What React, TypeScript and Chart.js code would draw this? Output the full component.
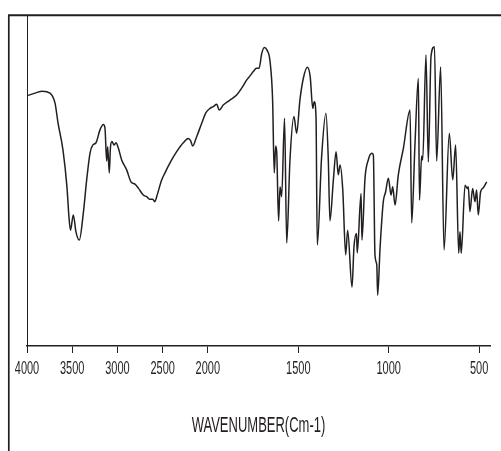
import { useEffect, useRef } from "react";
import { Chart, registerables } from "chart.js";

Chart.register(...registerables);

// Wavenumber (cm-1), high to low
const wavenumbers = [
  4000, 3912, 3829, 3746, 3690, 3657, 3602, 3558, 3536, 3519, 3488, 3458, 3422, 3377, 3340, 3303,
  3273, 3237, 3193, 3156, 3138, 3119, 3108, 3090, 3077, 3060, 3038, 3016, 2990, 2953, 2898, 2850,
  2806, 2769, 2714, 2676, 2640, 2610, 2585, 2566, 2510, 2474, 2419, 2345, 2272, 2216, 2190, 2168,
  2124, 2068, 2021, 1988, 1970, 1951, 1937, 1915, 1878, 1841, 1813, 1785, 1767, 1749, 1731, 1717,
  1702, 1688, 1673, 1656, 1642, 1633, 1625, 1619, 1609, 1601, 1592, 1576, 1564, 1546, 1524, 1509,
  1491, 1472, 1450, 1434, 1420, 1412, 1402, 1395, 1371, 1347, 1334, 1325, 1306, 1291, 1279, 1269,
  1254, 1238, 1227, 1203, 1192, 1178, 1174, 1153, 1148, 1131, 1113, 1094, 1085, 1076, 1066, 1061,
  1048, 1030, 1017, 1002, 987, 978, 965, 947, 919, 882, 873, 855, 836, 830, 818, 812,
  794, 781, 766, 747, 735, 713, 694, 665, 646, 630, 613, 606, 599, 578, 566, 560,
  551, 536, 523, 514, 505, 492, 477, 458,
];

// Transmittance (%), same order
const transmittance = [
  75.6, 76.4, 77.0, 76.4, 73.4, 67.4, 59.2, 48.0, 39.0, 35.0, 39.6, 34.4, 32.0, 40.2, 50.2, 58.3,
  60.7, 61.4, 65.3, 66.9, 65.9, 55.9, 60.2, 52.3, 60.1, 61.8, 60.7, 61.4, 59.8, 56.2, 53.2, 49.6,
  48.9, 47.7, 45.6, 45.1, 44.3, 44.3, 43.6, 45.1, 50.2, 52.3, 55.3, 58.7, 61.4, 62.7, 62.0, 60.4,
  63.2, 67.3, 70.5, 71.8, 72.3, 73.0, 71.3, 72.8, 74.3, 75.8, 77.9, 80.4, 81.6, 82.9, 83.9, 83.9,
  88.4, 90.2, 89.4, 85.9, 74.3, 52.3, 60.4, 58.3, 37.8, 48.0, 45.1, 68.8, 31.1, 56.2, 69.3, 64.3,
  74.3, 80.9, 84.2, 81.3, 71.8, 73.8, 69.3, 30.5, 57.2, 70.3, 56.2, 37.8, 50.2, 58.7, 51.7, 54.7,
  47.1, 27.5, 35.0, 17.8, 30.0, 34.0, 28.1, 46.1, 32.0, 50.7, 56.2, 58.2, 57.7, 27.5, 24.5, 15.4,
  29.5, 43.6, 46.6, 50.7, 45.6, 48.1, 42.6, 51.7, 59.7, 71.3, 37.2, 60.7, 80.9, 44.1, 57.4, 56.2,
  87.9, 55.6, 87.6, 90.4, 55.9, 84.3, 29.0, 64.3, 50.2, 60.7, 28.0, 34.5, 28.0, 48.6, 47.6, 48.1,
  40.6, 47.6, 43.6, 47.1, 39.6, 46.6, 47.8, 49.6,
];

const tickWavenumbers = [4000, 3500, 3000, 2500, 2000, 1500, 1000, 500];
const axisTitle = "WAVENUMBER(Cm-1)";

// The x axis is split: 4000-2000 drawn at half the scale of 2000-440
const X_START = 4000;
const X_BREAK = 2000;
const X_END = 440;

function toU(w: number): number {
  return w >= X_BREAK ? (X_START - w) / 2 : (X_START - X_BREAK) / 2 + (X_BREAK - w);
}
function fromU(u: number): number {
  const half = (X_START - X_BREAK) / 2;
  return u <= half ? X_START - 2 * u : X_BREAK - (u - half);
}

const INK = "#231f20";
const FONT = "'Liberation Sans', Arial, sans-serif";
const TEXT_STRETCH = 1.68; // the reference's lettering is tall and narrow
const LABEL_CY = 368;
const TITLE_CY = 424;

const framePlugin = {
  id: "outerFrame",
  afterDraw(chart: any) {
    const ctx = chart.ctx;
    ctx.save();
    ctx.strokeStyle = INK;
    ctx.lineWidth = 2;
    ctx.beginPath();
    ctx.moveTo(8, 15.3);
    ctx.lineTo(chart.width, 15.3);
    ctx.stroke();
    ctx.lineWidth = 1.7;
    ctx.beginPath();
    ctx.moveTo(8.8, 15);
    ctx.lineTo(8.8, chart.height);
    ctx.stroke();
    ctx.restore();
  },
};

const stretchPlugin = {
  id: "stretchText",
  beforeDraw(chart: any) {
    const xs = chart.scales.x;
    if (!xs || xs.__stretched) return;
    xs.__stretched = true;
    const ctx = chart.ctx;
    const wrap = (name: string, cy: number) => {
      const orig = xs[name].bind(xs);
      xs[name] = (...args: any[]) => {
        ctx.save();
        ctx.translate(0, cy);
        ctx.scale(1, TEXT_STRETCH);
        ctx.translate(0, -cy);
        orig(...args);
        ctx.restore();
      };
    };
    wrap("drawLabels", LABEL_CY);
    wrap("drawTitle", TITLE_CY);
  },
};

export default function App() {
  const ref = useRef<HTMLCanvasElement | null>(null);

  useEffect(() => {
    if (!ref.current) return;
    const points = wavenumbers.map((w, i) => ({ x: toU(w), y: transmittance[i] }));
    const chart = new Chart(ref.current, {
      type: "line",
      data: {
        datasets: [
          {
            data: points,
            borderColor: INK,
            borderWidth: 1.5,
            pointRadius: 0,
            fill: false,
            cubicInterpolationMode: "monotone",
          },
        ],
      },
      options: {
        responsive: false,
        animation: false,
        events: [],
        layout: { padding: { left: 27, top: 15, right: 11, bottom: 0 } },
        plugins: { legend: { display: false }, tooltip: { enabled: false }, title: { display: false } },
        scales: {
          x: {
            type: "linear",
            min: toU(X_START),
            max: toU(X_END),
            afterBuildTicks: (scale: any) => {
              scale.ticks = tickWavenumbers.map((w) => ({ value: toU(w) }));
            },
            afterFit: (scale: any) => {
              scale.height = 105;
            },
            grid: {
              display: true,
              drawOnChartArea: false,
              drawTicks: true,
              tickLength: 7,
              color: INK,
              lineWidth: 1,
            },
            border: { display: true, color: INK, width: 1.5 },
            ticks: {
              autoSkip: false,
              maxRotation: 0,
              padding: 9,
              color: INK,
              font: { family: FONT, size: 11 },
              callback: (v: any) => String(Math.round(fromU(Number(v)))),
            },
            title: {
              display: true,
              text: axisTitle,
              color: INK,
              font: { family: FONT, size: 13 },
              padding: { top: 0, bottom: 18 },
            },
          },
          y: {
            min: 0,
            max: 100,
            afterFit: (scale: any) => {
              scale.width = 0;
            },
            grid: { display: false, drawTicks: false },
            border: { display: true, color: INK, width: 1 },
            ticks: { display: false },
          },
        },
      },
      plugins: [stretchPlugin, framePlugin],
    } as any);
    return () => chart.destroy();
  }, []);

  return (
    <canvas
      ref={ref}
      width={501}
      height={451}
      style={{ position: "absolute", left: 0, top: 0, display: "block", background: "#ffffff" }}
    />
  );
}
